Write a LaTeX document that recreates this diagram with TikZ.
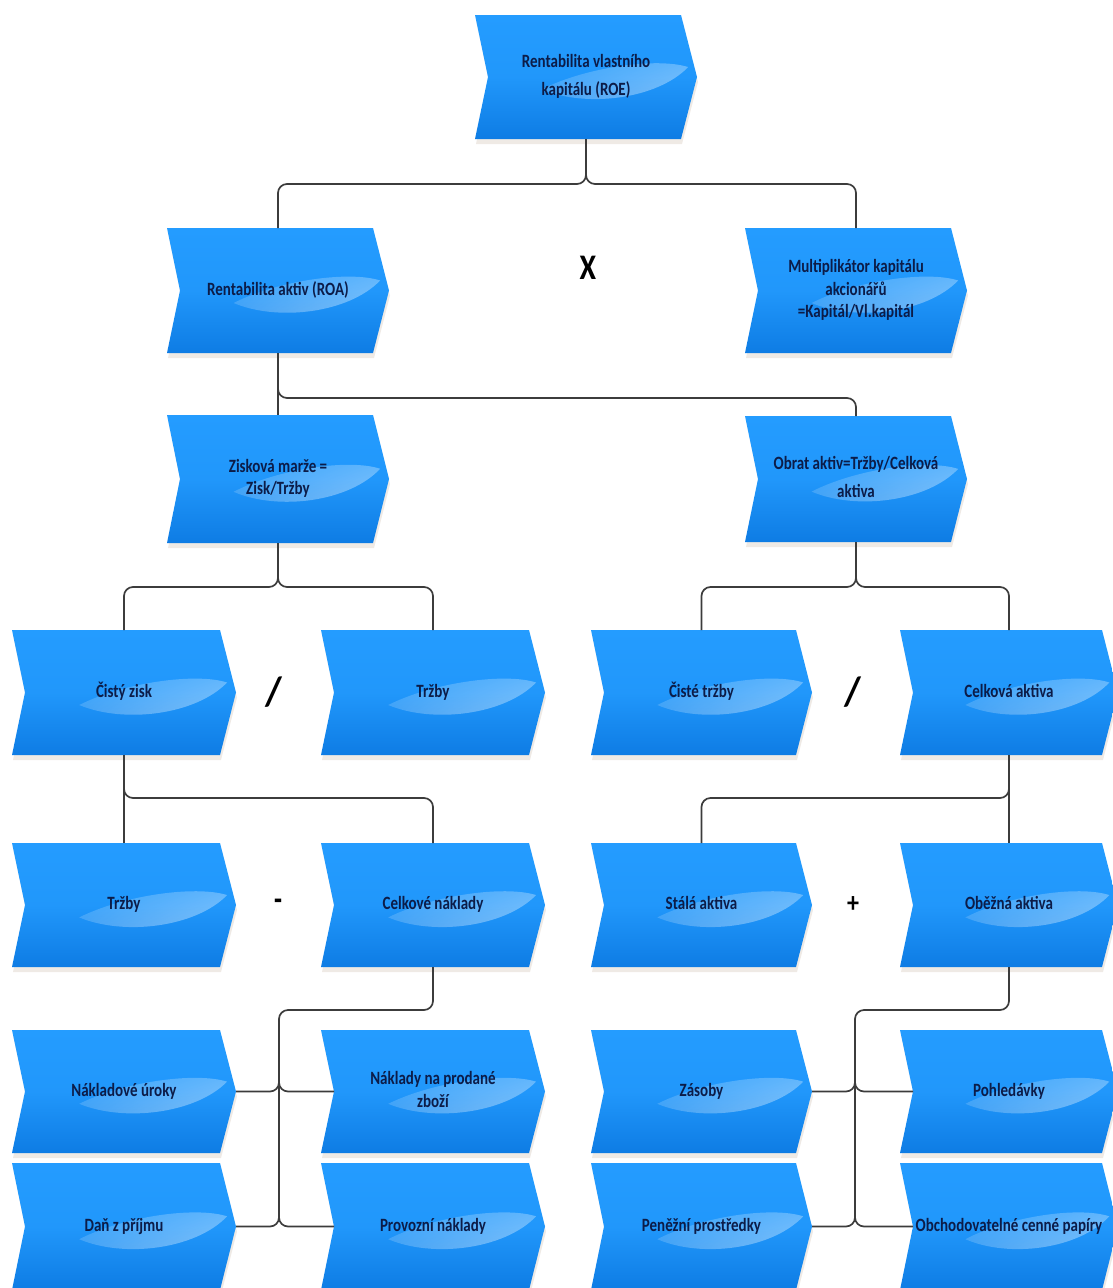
\documentclass[tikz,border=0pt]{standalone}
\usepackage{fontspec}
\setmainfont{Carlito}
\usetikzlibrary{fadings,shadings}
\definecolor{boxtop}{RGB}{36,156,255}
\definecolor{boxbot}{RGB}{14,124,228}
\definecolor{txtc}{RGB}{12,28,72}
\definecolor{linec}{RGB}{60,60,60}
\begin{tikzfadingfrompicture}[name=glossfade]
  \shade[upper left=transparent!100, upper right=transparent!70, lower left=transparent!90, lower right=transparent!0] (-50bp,-50bp) rectangle (50bp,50bp);
\end{tikzfadingfrompicture}
\newcommand\tx[1]{\scalebox{1}[1.25]{\begin{tabular}{@{}c@{}}#1\end{tabular}}}
\tikzset{
  txtnode/.style={inner sep=0pt, outer sep=0pt, text=txtc, font=\fontsize{15}{18}\selectfont\bfseries},
  opnode/.style={inner sep=0pt, text=black, font=\fontsize{30}{30}\selectfont\bfseries},
  conn/.style={draw=linec, line width=1.7pt, rounded corners=9pt},
}
% name, x0, y0, w, h, text
\newcommand\chev[6]{%
  \begin{scope}[shift={(#2,#3)}]
    \pgfmathsetmacro\cw{#4}\pgfmathsetmacro\chh{#5}
    \begin{scope}[shift={(1,5)}]
      \fill[black!60!orange, opacity=0.10] (0,0) -- (\cw-16,0) -- (\cw,\chh/2) -- (\cw-16,\chh) -- (0,\chh) -- (13,\chh/2) -- cycle;
    \end{scope}
    \shade[top color=boxtop, bottom color=boxbot, middle color=boxtop!85!boxbot] (0,0) -- (\cw-16,0) -- (\cw,\chh/2) -- (\cw-16,\chh) -- (0,\chh) -- (13,\chh/2) -- cycle;
    \fill[white, opacity=0.75, path fading=glossfade, fit fading=true] (0.3*\cw,0.6*\chh) .. controls (0.5*\cw,0.75*\chh) and (0.82*\cw,0.68*\chh) .. (0.96*\cw,0.42*\chh) .. controls (0.82*\cw,0.34*\chh) and (0.5*\cw,0.42*\chh) .. cycle;
    \node[txtnode, minimum width=#4, minimum height=#5] (#1) at (\cw/2,\chh/2) {\tx{#6}};
  \end{scope}
}
\begin{document}
\begin{tikzpicture}[x=1pt, y=-1pt]
\useasboundingbox (0,0) rectangle (1113,1288);
\fill[white] (0,0) rectangle (1113,1288);

% boxes
\chev{roe}{475}{15}{222}{124}{Rentabilita vlastního\\[4pt]kapitálu (ROE)}
\chev{roa}{167}{228}{222}{125}{Rentabilita aktiv (ROA)}
\chev{mult}{745}{228}{222}{125}{Multiplikátor kapitálu\\akcionářů\\=Kapitál/Vl.kapitál}
\chev{zm}{167}{415}{222}{128}{Zisková marže =\\Zisk/Tržby}
\chev{oa}{745}{416}{222}{126}{Obrat aktiv=Tržby/Celková\\[4pt]aktiva}

\chev{cz}{12}{630}{224}{125}{Čistý zisk}
\chev{trz}{321}{630}{224}{125}{Tržby}
\chev{ctr}{591}{630}{221}{125}{Čisté tržby}
\chev{cak}{900}{630}{218}{125}{Celková aktiva}

\chev{trz2}{12}{843}{224}{124}{Tržby}
\chev{cnak}{321}{843}{224}{124}{Celkové náklady}
\chev{sta}{591}{843}{221}{124}{Stálá aktiva}
\chev{oba}{900}{843}{218}{124}{Oběžná aktiva}

\chev{nu}{12}{1030}{224}{123}{Nákladové úroky}
\chev{prod}{321}{1030}{224}{123}{Náklady na prodané\\zboží}
\chev{zas}{591}{1030}{221}{123}{Zásoby}
\chev{poh}{900}{1030}{218}{123}{Pohledávky}

\chev{dan}{12}{1163}{224}{127}{Daň z příjmu}
\chev{prov}{321}{1163}{224}{127}{Provozní náklady}
\chev{pen}{591}{1163}{221}{127}{Peněžní prostředky}
\chev{obch}{900}{1163}{218}{127}{Obchodovatelné cenné papíry}

% operators
\node[opnode] (opx) at (588,268) {\scalebox{1}[1.2]{X}};
\node[opnode, font=\fontsize{34}{34}\selectfont\bfseries] (div1) at (274,692) {\scalebox{1.15}[1.2]{/}};
\node[opnode, font=\fontsize{34}{34}\selectfont\bfseries] (div2) at (853,692) {\scalebox{1.15}[1.2]{/}};
\node[opnode, font=\fontsize{26}{26}\selectfont\bfseries] (minus) at (278,905) {\scalebox{1}[1.3]{-}};
\node[opnode, font=\fontsize{24}{24}\selectfont\bfseries] (plus) at (853,905) {\scalebox{1}[1.2]{+}};

% helper levels
\coordinate (h1) at (0,184);
\coordinate (h2) at (0,398);
\coordinate (h3) at (0,587);
\coordinate (h4) at (0,798);
\coordinate (bL) at (279,1010);
\coordinate (bL2) at (279,1032);
\coordinate (bR) at (855,1010);
\coordinate (bR2) at (855,1032);

% connectors
\draw[conn] (roe.south) -- (roe.south |- h1) -| (roa.north);
\draw[conn] (roe.south) -- (roe.south |- h1) -| (mult.north);

\draw[conn] (roa.south) -- (zm.north);
\draw[conn] (roa.south) -- (roa.south |- h2) -| (oa.north);

\draw[conn] (zm.south) -- (zm.south |- h3) -| (cz.north);
\draw[conn] (zm.south) -- (zm.south |- h3) -| (trz.north);
\draw[conn] (oa.south) -- (oa.south |- h3) -| (ctr.north);
\draw[conn] (oa.south) -- (oa.south |- h3) -| (cak.north);

\draw[conn] (cz.south) -- (trz2.north);
\draw[conn] (cz.south) -- (cz.south |- h4) -| (cnak.north);
\draw[conn] (cak.south) -- (oba.north);
\draw[conn] (cak.south) -- (cak.south |- h4) -| (sta.north);

\draw[conn] (cnak.south) |- (bL) -- (bL2);
\draw[conn] (nu.east) -| (bL2);
\draw[conn] ([xshift=13pt]prod.west) -| (bL2);
\draw[conn] (dan.east) -| (bL2);
\draw[conn] ([xshift=13pt]prov.west) -| (bL2);

\draw[conn] (oba.south) |- (bR) -- (bR2);
\draw[conn] (zas.east) -| (bR2);
\draw[conn] ([xshift=13pt]poh.west) -| (bR2);
\draw[conn] (pen.east) -| (bR2);
\draw[conn] ([xshift=13pt]obch.west) -| (bR2);
\end{tikzpicture}
\end{document}
